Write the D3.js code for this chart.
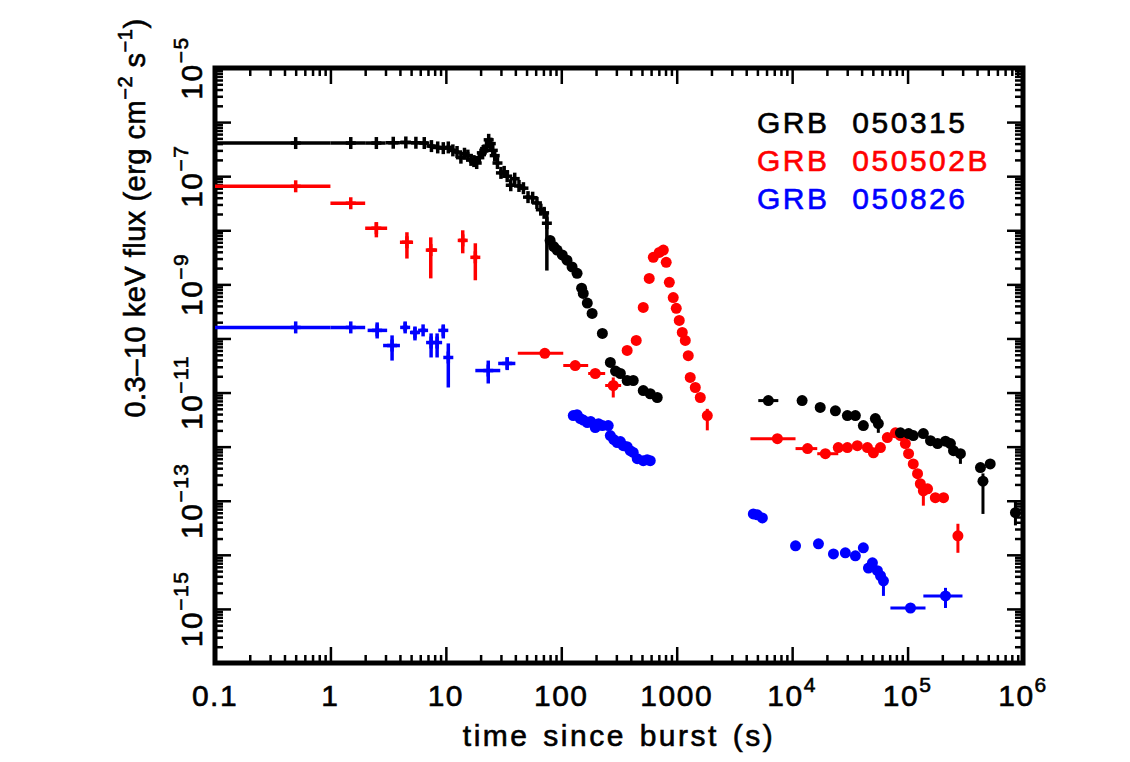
<!DOCTYPE html>
<html>
<head>
<meta charset="utf-8">
<script src="https://cdn.jsdelivr.net/npm/d3@7"></script>
<style>
  body { margin: 0; background: #fff; }
  text { font-family: "Liberation Sans", Arial, Helvetica, sans-serif; fill: #000; stroke: #000; stroke-width: 0.6px; }
</style>
</head>
<body>
<div id="chart"></div>
<script>
// GRB names + colours (legend order)
var grbNames = ["GRB 050315", "GRB 050502B", "GRB 050826"];
var grbColors = ["#000000", "#ff0000", "#0000ff"];

// tick labels
var xTickValues = [0.1, 1, 10, 100, 1000, 1e4, 1e5, 1e6];
var xTickLabels = ["0.1", "1", "10", "100", "1000", "10^4", "10^5", "10^6"];
var yTickValues = [1e-5, 1e-7, 1e-9, 1e-11, 1e-13, 1e-15];
var yTickLabels = ["10^\u22125", "10^\u22127", "10^\u22129", "10^\u221211", "10^\u221213", "10^\u221215"];

// rows: [t, flux, tLo, tHi, fluxLo, fluxHi]  (null = no bar)
// BAT extrapolated points (crosses)
var bat050315 = [
  [0.5, 4.1e-7, 0.1, 1, null, null], [1.5, 4.1e-7, 1, 2, null, null], [2.5, 4.1e-7, 2, 3, null, null],
  [3.5, 4.15e-7, 3, 4, null, null], [4.5, 4.2e-7, 4, 5, null, null], [5.5, 4.15e-7, 5, 6, null, null],
  [6.5, 4.1e-7, 6, 7, null, null], [7.5, 3.6e-7, 7, 8, null, null], [8.5, 3.4e-7, 8, 9, null, null],
  [9.5, 3.3e-7, 9, 10, null, null], [10.5, 3.4e-7, 10, 11, null, null], [11.5, 3.0e-7, 11, 12, null, null],
  [12.5, 2.8e-7, 12, 13, null, null], [13.5, 2.2e-7, 13, 14, null, null], [14.5, 2.6e-7, 14, 15, null, null],
  [15.5, 2.4e-7, 15, 16, null, null], [16.5, 2.0e-7, 16, 17, null, null], [17.5, 1.9e-7, 17, 18, null, null],
  [18.5, 1.75e-7, 18, 19, null, null], [19.5, 2.2e-7, 19, 20, null, null], [20.5, 2.7e-7, 20, 21, null, null],
  [21.5, 3.0e-7, 21, 22, null, null], [22.5, 3.5e-7, 22, 23, null, null], [23.5, 4.7e-7, 23, 24, null, null],
  [24.5, 4.0e-7, 24, 25, null, null], [25.5, 3.0e-7, 25, 26, null, null], [26.5, 2.4e-7, 26, 27, null, null],
  [28, 1.75e-7, 27, 29, null, null], [30, 1.15e-7, 29, 31, null, null], [32, 1.2e-7, 31, 33, null, null],
  [34, 1.0e-7, 33, 35, null, null], [36.5, 6.8e-8, 35, 38, null, null], [39.5, 9.0e-8, 38, 41, null, null],
  [43, 6.6e-8, 41, 45, null, null], [47, 6.0e-8, 45, 49, null, null], [51.5, 4.1e-8, 49, 54, null, null],
  [56.5, 4.0e-8, 54, 59, null, null], [61.5, 3.2e-8, 59, 64, null, null], [66.5, 2.4e-8, 64, 69, null, null],
  [71, 2.1e-8, 69, 73, null, null], [75, 1.35e-8, 73, 77, 1.8e-9, 2.1e-8]
];
var bat050502B = [
  [0.5, 6.5e-8, 0.1, 1, null, null], [1.5, 3.16e-8, 1, 2, null, null],
  [2.5, 1.09e-8, 2, 3.1, 7.4e-9, 1.41e-8], [4.6, 6.0e-9, 4.0, 5.2, 3.0e-9, 9.2e-9],
  [7.4, 4.3e-9, 6.9, 8.4, 1.29e-9, 7.4e-9], [14, 6.5e-9, 13, 15, 3.75e-9, 1.0e-8],
  [18, 3.16e-9, 17, 19, 1.19e-9, 5.75e-9]
];
var bat050826 = [
  [0.5, 1.6e-10, 0.1, 1, null, null], [1.5, 1.6e-10, 1, 2, null, null],
  [2.54, 1.41e-10, 2.1, 3.1, 1.0e-10, 1.98e-10], [3.42, 7.4e-11, 2.86, 4.0, 3.9e-11, 1.14e-10],
  [4.44, 1.6e-10, 4.2, 4.7, 1.35e-10, 1.98e-10], [5.4, 1.29e-10, 5.0, 5.8, 9.2e-11, 1.6e-10],
  [6.35, 1.41e-10, 6.0, 6.7, null, null], [7.45, 8.4e-11, 7.1, 7.8, 4.45e-11, 1.24e-10],
  [8.4, 8.4e-11, 8.1, 8.7, 4.45e-11, 1.24e-10], [9.5, 1.41e-10, 9.1, 9.9, 1.0e-10, 1.74e-10],
  [10.5, 4.45e-11, 10.1, 10.9, 1.24e-11, 8.1e-11], [23.3, 2.55e-11, 18, 29.6, 1.47e-11, 3.9e-11],
  [34, 3.45e-11, 28.4, 40, 2.6e-11, 4.5e-11]
];

// XRT points (filled circles)
var xrt050315 = [
  [80, 6.5e-9, null, null, null, null], [86, 5.0e-9, null, null, null, null], [92, 4.3e-9, null, null, null, null],
  [102, 3.5e-9, null, null, null, null], [112, 2.8e-9, null, null, null, null], [124, 2.1e-9, null, null, null, null],
  [137, 1.6e-9, null, null, null, null], [150, 8.5e-10, null, null, null, null], [155, 6.8e-10, null, null, null, null],
  [168, 4.5e-10, null, null, null, null], [185, 2.9e-10, null, null, null, null], [227, 1.24e-10, null, null, null, null],
  [266, 3.6e-11, null, null, null, null], [295, 2.5e-11, null, null, null, null], [325, 2.25e-11, null, null, null, null],
  [372, 1.67e-11, null, null, null, null], [420, 1.67e-11, null, null, null, null], [513, 1.09e-11, null, null, null, null],
  [590, 9.5e-12, null, null, null, null], [678, 8.1e-12, null, null, null, null],
  [6220, 7.1e-12, 5090, 7590, null, null], [12200, 7.1e-12, null, null, null, null], [17500, 5.3e-12, null, null, null, null],
  [23700, 4.6e-12, null, null, null, null], [30100, 3.75e-12, null, null, null, null], [35300, 3.75e-12, null, null, null, null],
  [41400, 2.45e-12, null, null, null, null], [52600, 3.3e-12, null, null, null, null], [55800, 2.67e-12, null, null, 1.8e-12, 3.2e-12],
  [86700, 1.8e-12, null, null, null, null], [1.02e5, 1.74e-12, null, null, null, null], [1.12e5, 1.6e-12, null, null, null, null],
  [1.37e5, 1.74e-12, null, null, null, null], [1.58e5, 1.29e-12, null, null, null, null], [1.82e5, 1.14e-12, null, null, null, null],
  [2.13e5, 1.26e-12, null, null, null, null], [2.35e5, 1.14e-12, null, null, null, null], [2.5e5, 8.4e-13, null, null, null, null],
  [2.87e5, 7.4e-13, null, null, 4.8e-13, 9.0e-13], [4.28e5, 4.1e-13, null, null, null, null], [5.2e5, 4.8e-13, null, null, null, null],
  [4.5e5, 2.3e-13, null, null, 5.7e-14, 3.2e-13], [8.6e5, 6.0e-14, null, null, 3.5e-14, 1.0e-13]
];
var xrt050502B = [
  [72, 5.3e-11, 42, 104, null, null], [132, 3.16e-11, 104, 171, null, null],
  [197, 2.25e-11, 171, 240, null, null], [282, 1.35e-11, 240, 330, 8.1e-12, 1.9e-11],
  [372, 6.0e-11, null, null, null, null], [446, 9.2e-11, null, null, null, null], [513, 3.75e-10, null, null, null, null],
  [578, 1.29e-9, null, null, null, null], [627, 3.16e-9, null, null, null, null], [706, 3.9e-9, null, null, null, null],
  [766, 4.3e-9, null, null, null, null], [811, 2.55e-9, null, null, null, null], [863, 1.09e-9, null, null, null, null],
  [933, 5.7e-10, null, null, null, null], [991, 3.6e-10, null, null, null, null], [1052, 2.15e-10, null, null, null, null],
  [1117, 1.29e-10, null, null, null, null], [1186, 9.2e-11, null, null, null, null], [1259, 4.8e-11, null, null, null, null],
  [1309, 1.9e-11, null, null, null, null], [1449, 1.24e-11, null, null, null, null], [1600, 8.1e-12, null, null, null, null],
  [1841, 3.75e-12, null, null, 2.0e-12, 5.0e-12],
  [7450, 1.4e-12, 4350, 10700, null, null], [13600, 9.2e-13, 10700, 16500, null, null],
  [19400, 7.4e-13, 16500, 25100, null, null], [25100, 9.6e-13, null, null, null, null],
  [30100, 9.6e-13, null, null, null, null], [36700, 1.04e-12, null, null, null, null],
  [44900, 9.6e-13, null, null, null, null], [50600, 7.7e-13, null, null, null, null],
  [58200, 9.6e-13, null, null, null, null], [66800, 1.47e-12, null, null, null, null],
  [78500, 1.8e-12, null, null, null, null], [86700, 1.6e-12, null, null, null, null],
  [95700, 1.14e-12, null, null, null, null], [1.02e5, 7.4e-13, null, null, null, null],
  [1.12e5, 4.8e-13, null, null, null, null], [1.22e5, 3.16e-13, null, null, null, null],
  [1.29e5, 2.06e-13, null, null, null, null], [1.37e5, 1.53e-13, null, null, 8.1e-14, 2.2e-13],
  [1.49e5, 1.66e-13, null, null, null, null], [1.74e5, 1.14e-13, null, null, null, null],
  [2.05e5, 1.14e-13, null, null, null, null], [2.73e5, 2.25e-14, null, null, 1.09e-14, 3.75e-14]
];
var xrt050826 = [
  [127, 3.75e-12, null, null, null, null], [137, 3.9e-12, null, null, null, null], [146, 3.3e-12, null, null, null, null],
  [155, 3.1e-12, null, null, null, null], [168, 2.78e-12, null, null, null, null], [180, 2.9e-12, null, null, null, null],
  [197, 2.25e-12, null, null, null, null], [210, 2.65e-12, null, null, null, null], [227, 2.45e-12, null, null, null, null],
  [255, 2.45e-12, null, null, null, null], [266, 1.6e-12, null, null, null, null], [285, 1.35e-12, null, null, null, null],
  [305, 1.19e-12, null, null, null, null], [325, 1.24e-12, null, null, null, null], [344, 1.04e-12, null, null, null, null],
  [372, 1.0e-12, null, null, null, null], [396, 8.4e-13, null, null, null, null], [420, 7.8e-13, null, null, null, null],
  [455, 6.0e-13, null, null, null, null], [513, 5.5e-13, null, null, null, null], [555, 5.7e-13, null, null, null, null],
  [590, 5.5e-13, null, null, null, null],
  [4610, 5.7e-14, null, null, null, null], [4990, 5.5e-14, null, null, null, null], [5520, 4.8e-14, null, null, null, null],
  [10700, 1.47e-14, null, null, null, null], [16900, 1.6e-14, null, null, null, null], [22800, 1.04e-14, null, null, null, null],
  [28900, 1.09e-14, null, null, null, null], [35300, 9.6e-15, null, null, null, null], [41400, 1.35e-14, null, null, null, null],
  [45800, 5.7e-15, null, null, null, null], [49600, 7.1e-15, null, null, null, null], [54800, 5.1e-15, null, null, null, null],
  [58300, 4.1e-15, null, null, null, null], [61800, 3.3e-15, null, null, 1.74e-15, 4.5e-15],
  [1.06e5, 1.04e-15, 7.1e4, 1.43e5, null, null], [2.13e5, 1.74e-15, 1.37e5, 2.99e5, 1.04e-15, 2.45e-15]
];

var svgWidth = 1130;
var svgHeight = 762;
var margin = { top: 68, right: 107, bottom: 99, left: 215 };
var width = svgWidth - margin.left - margin.right;
var height = svgHeight - margin.top - margin.bottom;

var svg = d3.select("#chart").append("svg")
  .attr("width", svgWidth)
  .attr("height", svgHeight);

svg.append("rect").attr("width", svgWidth).attr("height", svgHeight).attr("fill", "#fff");

var chartGroup = svg.append("g")
  .attr("transform", `translate(${margin.left}, ${margin.top})`);

var x = d3.scaleLog().domain([0.1, 1e6]).range([0, width]);
var y = d3.scaleLog().domain([1e-16, 1e-5]).range([height, 0]);

// minor ticks 2..9 in every decade
function minorTicks(lo, hi) {
  var out = [];
  for (var d = lo; d < hi * 0.999; d *= 10) {
    for (var k = 2; k <= 9; k++) out.push(d * k);
  }
  return out;
}
var xMinor = minorTicks(0.1, 1e6);
var xMajor = d3.range(-1, 7).map(e => Math.pow(10, e));
var yMinor = minorTicks(1e-16, 1e-5);
var yMajor = d3.range(-16, -4).map(e => Math.pow(10, e));

function tickAxis(axis, values, size, transform) {
  var g = chartGroup.append("g")
    .attr("transform", transform)
    .call(axis.tickValues(values).tickSize(size).tickFormat(""));
  g.select(".domain").remove();
  g.selectAll("line").attr("stroke", "#000").attr("stroke-width", 2.5);
}
// inward ticks on all four sides
tickAxis(d3.axisBottom(x), xMinor, -8, `translate(0, ${height})`);
tickAxis(d3.axisBottom(x), xMajor, -16, `translate(0, ${height})`);
tickAxis(d3.axisTop(x), xMinor, -8, "translate(0, 0)");
tickAxis(d3.axisTop(x), xMajor, -16, "translate(0, 0)");
tickAxis(d3.axisLeft(y), yMinor, -8, "translate(0, 0)");
tickAxis(d3.axisLeft(y), yMajor, -16, "translate(0, 0)");
tickAxis(d3.axisRight(y), yMinor, -8, `translate(${width}, 0)`);
tickAxis(d3.axisRight(y), yMajor, -16, `translate(${width}, 0)`);

chartGroup.append("rect")
  .attr("width", width).attr("height", height)
  .attr("fill", "none").attr("stroke", "#000").attr("stroke-width", 5);

// labels with "^" exponent
function powerLabel(textSel, label) {
  var parts = label.split("^");
  textSel.append("tspan").text(parts[0]);
  if (parts.length > 1) {
    textSel.append("tspan").attr("font-size", 21).attr("dy", -14).text(parts[1]);
  }
}

xTickValues.forEach(function(v, i) {
  var t = chartGroup.append("text")
    .attr("x", x(v))
    .attr("y", height + 43)
    .attr("text-anchor", "middle")
    .attr("font-size", 30)
    .attr("letter-spacing", 1.5);
  powerLabel(t, xTickLabels[i]);
});

yTickValues.forEach(function(v, i) {
  var t = chartGroup.append("text")
    .attr("transform", `translate(-13, ${y(v)}) rotate(-90)`)
    .attr("text-anchor", "middle")
    .attr("font-size", 30)
    .attr("letter-spacing", 1.5);
  powerLabel(t, yTickLabels[i]);
});

// axis titles
chartGroup.append("text")
  .attr("x", width / 2)
  .attr("y", height + 83)
  .attr("text-anchor", "middle")
  .attr("font-size", 30)
  .attr("letter-spacing", 2.5)
  .attr("word-spacing", 3)
  .text("time since burst (s)");

var yTitle = chartGroup.append("text")
  .attr("transform", `translate(-70, 150) rotate(-90)`)
  .attr("text-anchor", "middle")
  .attr("font-size", 29)
  .attr("letter-spacing", 0.5);
yTitle.append("tspan").text("0.3\u201310 keV flux (erg cm");
yTitle.append("tspan").attr("font-size", 20).attr("dy", -13).text("\u22122");
yTitle.append("tspan").attr("dy", 13).text(" s");
yTitle.append("tspan").attr("font-size", 20).attr("dy", -13).text("\u22121");
yTitle.append("tspan").attr("dy", 13).text(")");

// legend
grbNames.forEach(function(name, i) {
  chartGroup.append("text")
    .attr("x", 757 - margin.left)
    .attr("y", 133 - margin.top + i * 38)
    .attr("font-size", 30)
    .attr("letter-spacing", 2.5)
    .attr("word-spacing", 12)
    .style("fill", grbColors[i])
    .style("stroke", grbColors[i])
    .text(name);
});

// data
function drawSeries(rows, color, kind) {
  var g = chartGroup.append("g");
  var sw = kind === "bat" ? 3.5 : 3;
  rows.forEach(function(d) {
    var cx = x(d[0]), cy = y(d[1]);
    if (d[2] !== null) {
      g.append("line").attr("x1", x(d[2])).attr("x2", x(d[3])).attr("y1", cy).attr("y2", cy)
        .attr("stroke", color).attr("stroke-width", sw);
    }
    if (d[4] !== null) {
      g.append("line").attr("x1", cx).attr("x2", cx).attr("y1", y(d[4])).attr("y2", y(d[5]))
        .attr("stroke", color).attr("stroke-width", sw);
    }
    if (kind === "bat") {
      g.append("line").attr("x1", cx - 5).attr("x2", cx + 5).attr("y1", cy).attr("y2", cy)
        .attr("stroke", color).attr("stroke-width", sw);
      g.append("line").attr("x1", cx).attr("x2", cx).attr("y1", cy - 6).attr("y2", cy + 6)
        .attr("stroke", color).attr("stroke-width", sw);
    } else {
      g.append("circle").attr("cx", cx).attr("cy", cy).attr("r", 5.5).attr("fill", color);
    }
  });
}

drawSeries(bat050826, grbColors[2], "bat");
drawSeries(xrt050826, grbColors[2], "xrt");
drawSeries(bat050502B, grbColors[1], "bat");
drawSeries(xrt050502B, grbColors[1], "xrt");
drawSeries(bat050315, grbColors[0], "bat");
drawSeries(xrt050315, grbColors[0], "xrt");
</script>
</body>
</html>
